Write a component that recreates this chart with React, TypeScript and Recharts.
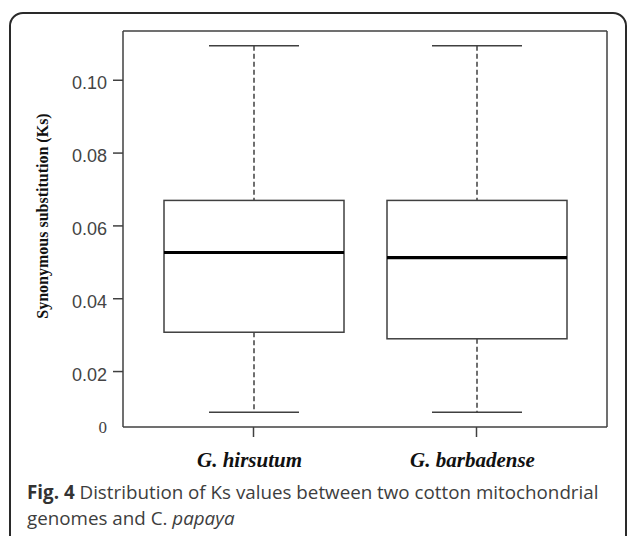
import React from "react";
import { BarChart, Bar, XAxis, YAxis, Label, CartesianGrid } from "recharts";

// Ks distribution (box = quartiles, whiskers = min/max)
const species = ["G. hirsutum", "G. barbadense"];
const whiskerLow = [0.0088, 0.0088];
const lowerQuartile = [0.0308, 0.029];
const medianKs = [0.0527, 0.0513];
const upperQuartile = [0.067, 0.067];
const whiskerHigh = [0.1095, 0.1095];
const yTickValues = [0.02, 0.04, 0.06, 0.08, 0.1];

const data = species.map((name, i) => ({
  name,
  range: [whiskerLow[i], whiskerHigh[i]],
  q1: lowerQuartile[i],
  median: medianKs[i],
  q3: upperQuartile[i],
}));

// R-style 4% axis extension around the data range
const lo = Math.min(...whiskerLow);
const hi = Math.max(...whiskerHigh);
const pad = (hi - lo) * 0.04;
const yMin = lo - pad;
const yMax = hi + pad;

const LINE = "#404040";

const BoxShape = (props: any) => {
  const { x, y, width, height, payload } = props;
  const [min, max] = payload.range;
  const top = Math.min(y, y + height);
  const bottom = Math.max(y, y + height);
  const toY = (v: number) => bottom - ((v - min) / (max - min)) * (bottom - top);
  const cx = x + width / 2;
  const cap = width / 4;
  const yQ1 = toY(payload.q1);
  const yQ3 = toY(payload.q3);
  const yMed = toY(payload.median);
  return (
    <g>
      <line x1={cx} x2={cx} y1={top} y2={yQ3} stroke={LINE} strokeWidth={1.5} strokeDasharray="5 3" />
      <line x1={cx} x2={cx} y1={yQ1} y2={bottom} stroke={LINE} strokeWidth={1.5} strokeDasharray="5 3" />
      <line x1={cx - cap} x2={cx + cap} y1={top} y2={top} stroke={LINE} strokeWidth={1.5} />
      <line x1={cx - cap} x2={cx + cap} y1={bottom} y2={bottom} stroke={LINE} strokeWidth={1.5} />
      <rect x={x} y={yQ3} width={width} height={yQ1 - yQ3} fill="#fff" stroke={LINE} strokeWidth={1.5} />
      <line x1={x} x2={x + width} y1={yMed} y2={yMed} stroke="#000" strokeWidth={3.2} />
    </g>
  );
};

const YTick = ({ x, y, index, payload }: any) => {
  if (index === 0) {
    // the original figure labels the bottom of the axis with a plain "0"
    return (
      <text x={x} y={y + 5.5} textAnchor="end" fontFamily="'Liberation Serif', serif" fontSize={17} fill="#444">
        0
      </text>
    );
  }
  return (
    <g>
      <line x1={x + 6} x2={x + 16} y1={y} y2={y} stroke={LINE} strokeWidth={1.5} />
      <text x={x} y={y + 9} textAnchor="end" fontFamily="'Liberation Sans', Arial, sans-serif" fontSize={18} fill="#444">
        {payload.value.toFixed(2)}
      </text>
    </g>
  );
};

const XTick = ({ x, y, payload }: any) => (
  <text
    x={x - 4}
    y={y + 14}
    textAnchor="middle"
    fontFamily="'Liberation Serif', 'Times New Roman', serif"
    fontWeight="bold"
    fontStyle="italic"
    fontSize={21}
    fill="#111"
  >
    {payload.value}
  </text>
);

const YTitle = ({ viewBox }: any) => {
  const tx = viewBox.x + 42;
  const ty = viewBox.y + viewBox.height / 2 - 13;
  return (
    <text
      x={tx}
      y={ty}
      transform={`rotate(-90, ${tx}, ${ty})`}
      textAnchor="middle"
      dominantBaseline="central"
      fontFamily="'Liberation Serif', 'Times New Roman', serif"
      fontWeight="bold"
      fontSize={16}
      fill="#111"
    >
      Synonymous substitution (Ks)
    </text>
  );
};

const App: React.FC = () => {
  return (
    <div style={{ position: "absolute", left: 0, top: 0, width: 628, height: 536, overflow: "hidden", background: "#fff" }}>
      <div
        style={{
          position: "absolute",
          left: 9,
          top: 12,
          width: 614,
          height: 560,
          border: "2px solid #2a2a2a",
          borderRadius: 14,
        }}
      />
      <div style={{ position: "absolute", left: 0, top: 0 }}>
        <BarChart width={628} height={480} data={data} margin={{ top: 31, right: 21, bottom: 0, left: 0 }}>
          {/* top and right sides of the plot frame */}
          <CartesianGrid
            stroke={LINE}
            strokeWidth={1.5}
            horizontalCoordinatesGenerator={({ offset }: any) => [offset.top]}
            verticalCoordinatesGenerator={({ offset }: any) => [offset.left + offset.width]}
          />
          <XAxis
            dataKey="name"
            height={53}
            padding={{ left: 19, right: 19 }}
            axisLine={{ stroke: LINE, strokeWidth: 1.5 }}
            tickLine={{ stroke: LINE, strokeWidth: 1.5 }}
            tickSize={10}
            tickMargin={16}
            tick={<XTick />}
          />
          <YAxis
            type="number"
            domain={[yMin, yMax]}
            ticks={[yMin, ...yTickValues]}
            width={123}
            tickSize={10}
            tickMargin={6}
            tickLine={false}
            axisLine={{ stroke: LINE, strokeWidth: 1.5 }}
            tick={<YTick />}
            interval={0}
          >
            <Label content={<YTitle />} />
          </YAxis>
          <Bar dataKey="range" barSize={180} shape={<BoxShape />} isAnimationActive={false} />
        </BarChart>
      </div>
      <div
        style={{
          position: "absolute",
          left: 27,
          top: 479,
          fontFamily: "'Open Sans', sans-serif",
          fontSize: 18.8,
          lineHeight: "26px",
          color: "#3d3d3d",
          whiteSpace: "nowrap",
        }}
      >
        <span style={{ fontWeight: "bold", color: "#333" }}>Fig. 4</span> Distribution of Ks values between two cotton mitochondrial
        <br />
        genomes and C. <i>papaya</i>
      </div>
    </div>
  );
};

export default App;
